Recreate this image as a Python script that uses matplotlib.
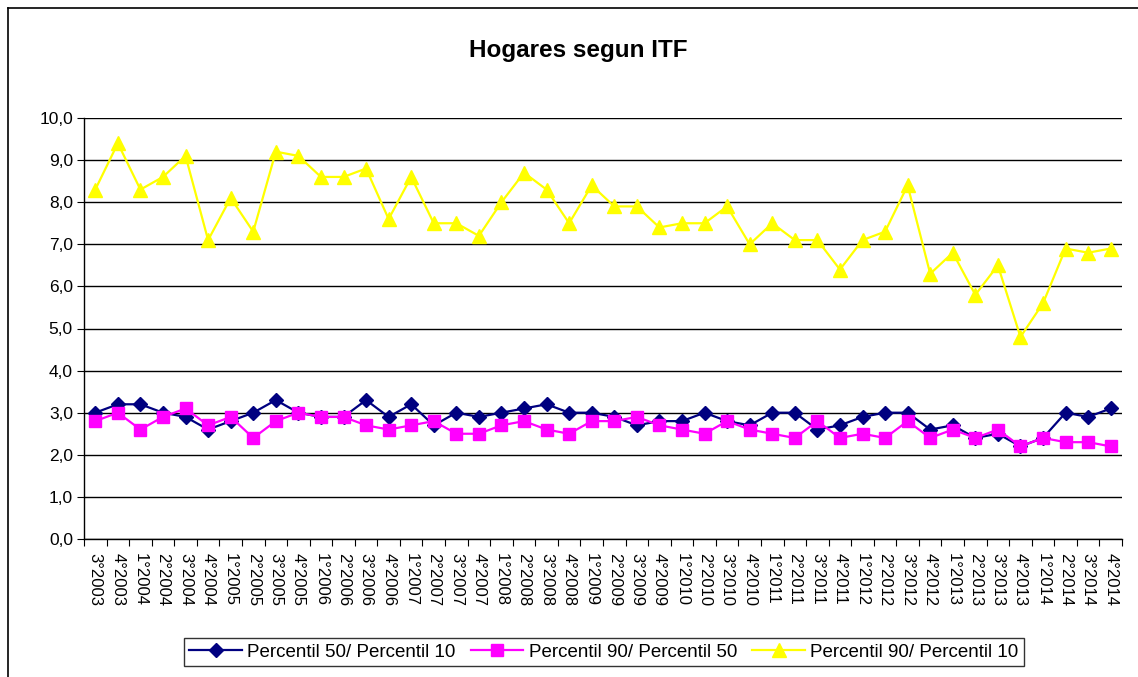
import matplotlib
matplotlib.use("Agg")
import matplotlib.pyplot as plt
from matplotlib.ticker import FuncFormatter, MultipleLocator
from matplotlib.lines import Line2D

plt.rcParams['font.family'] = ['Liberation Sans', 'DejaVu Sans']

categories = ["3°2003", "4°2003",
              "1°2004", "2°2004", "3°2004", "4°2004",
              "1°2005", "2°2005", "3°2005", "4°2005",
              "1°2006", "2°2006", "3°2006", "4°2006",
              "1°2007", "2°2007", "3°2007", "4°2007",
              "1°2008", "2°2008", "3°2008", "4°2008",
              "1°2009", "2°2009", "3°2009", "4°2009",
              "1°2010", "2°2010", "3°2010", "4°2010",
              "1°2011", "2°2011", "3°2011", "4°2011",
              "1°2012", "2°2012", "3°2012", "4°2012",
              "1°2013", "2°2013", "3°2013", "4°2013",
              "1°2014", "2°2014", "3°2014", "4°2014"]

p50_p10 = [3.0, 3.2, 3.2, 3.0, 2.9, 2.6, 2.8, 3.0, 3.3, 3.0,
           2.9, 2.9, 3.3, 2.9, 3.2, 2.7, 3.0, 2.9, 3.0, 3.1,
           3.2, 3.0, 3.0, 2.9, 2.7, 2.8, 2.8, 3.0, 2.8, 2.7,
           3.0, 3.0, 2.6, 2.7, 2.9, 3.0, 3.0, 2.6, 2.7, 2.4,
           2.5, 2.2, 2.4, 3.0, 2.9, 3.1]

p90_p50 = [2.8, 3.0, 2.6, 2.9, 3.1, 2.7, 2.9, 2.4, 2.8, 3.0,
           2.9, 2.9, 2.7, 2.6, 2.7, 2.8, 2.5, 2.5, 2.7, 2.8,
           2.6, 2.5, 2.8, 2.8, 2.9, 2.7, 2.6, 2.5, 2.8, 2.6,
           2.5, 2.4, 2.8, 2.4, 2.5, 2.4, 2.8, 2.4, 2.6, 2.4,
           2.6, 2.2, 2.4, 2.3, 2.3, 2.2]

p90_p10 = [8.3, 9.4, 8.3, 8.6, 9.1, 7.1, 8.1, 7.3, 9.2, 9.1,
           8.6, 8.6, 8.8, 7.6, 8.6, 7.5, 7.5, 7.2, 8.0, 8.7,
           8.3, 7.5, 8.4, 7.9, 7.9, 7.4, 7.5, 7.5, 7.9, 7.0,
           7.5, 7.1, 7.1, 6.4, 7.1, 7.3, 8.4, 6.3, 6.8, 5.8,
           6.5, 4.8, 5.6, 6.9, 6.8, 6.9]

series_labels = ["Percentil 50/ Percentil 10", "Percentil 90/ Percentil 50",
                 "Percentil 90/ Percentil 10"]

W, H = 1138, 677
fig = plt.figure(figsize=(W / 100, H / 100), dpi=100)
fig.patch.set_facecolor('white')
# outer chart border (left and top visible)
fig.lines.append(Line2D([7.5 / W, 7.5 / W], [0, 1 - 7.5 / H], transform=fig.transFigure,
                        color='black', linewidth=1.2))
fig.lines.append(Line2D([7.5 / W, 1], [1 - 7.5 / H, 1 - 7.5 / H], transform=fig.transFigure,
                        color='black', linewidth=1.2))

ax = fig.add_axes([84 / W, 1 - 539 / H, (1122 - 84) / W, (539 - 118) / H])
x = list(range(len(categories)))

ax.plot(x, p50_p10, color='#000080', marker='D', markersize=7,
        linewidth=1.6, label=series_labels[0], zorder=3)
ax.plot(x, p90_p50, color='#FF00FF', marker='s', markersize=8.5,
        linewidth=1.6, label=series_labels[1], zorder=3)
ax.plot(x, p90_p10, color='#FFFF00', marker='^', markersize=10,
        linewidth=1.6, label=series_labels[2], zorder=3)

ax.set_xlim(-0.5, len(categories) - 0.5)
ax.set_ylim(0, 10)
ax.yaxis.set_major_locator(MultipleLocator(1))
ax.yaxis.set_major_formatter(FuncFormatter(lambda v, p: f"{v:.1f}".replace('.', ',')))
ax.grid(axis='y', color='black', linewidth=1.0, zorder=0)
ax.set_axisbelow(True)

ax.set_xticks(x)
ax.set_xticklabels(categories, rotation=-90, fontsize=12)
ax.tick_params(axis='x', which='major', length=0, pad=10)
ax.set_xticks([i - 0.5 for i in range(len(categories) + 1)], minor=True)
ax.tick_params(axis='x', which='minor', length=5, color='black', width=0.8)
ax.tick_params(axis='y', labelsize=12.5, length=5, width=0.8, pad=3)

for s in ['top', 'right']:
    ax.spines[s].set_visible(False)
for s in ['left', 'bottom']:
    ax.spines[s].set_color('black')
    ax.spines[s].set_linewidth(1.0)

fig.text(578 / W, 1 - 50 / H, "Hogares segun ITF", ha='center', va='center',
         fontsize=17.5, fontweight='bold')

leg = fig.legend(loc='center', bbox_to_anchor=(604 / W, 1 - 652 / H), ncol=3,
                 frameon=True, fancybox=False, edgecolor='black', fontsize=13.5,
                 handlelength=2.8, columnspacing=0.8, handletextpad=0.3,
                 borderpad=0.3, borderaxespad=0)
leg.get_frame().set_linewidth(1.0)

fig.savefig("out.png", dpi=100, facecolor='white')
